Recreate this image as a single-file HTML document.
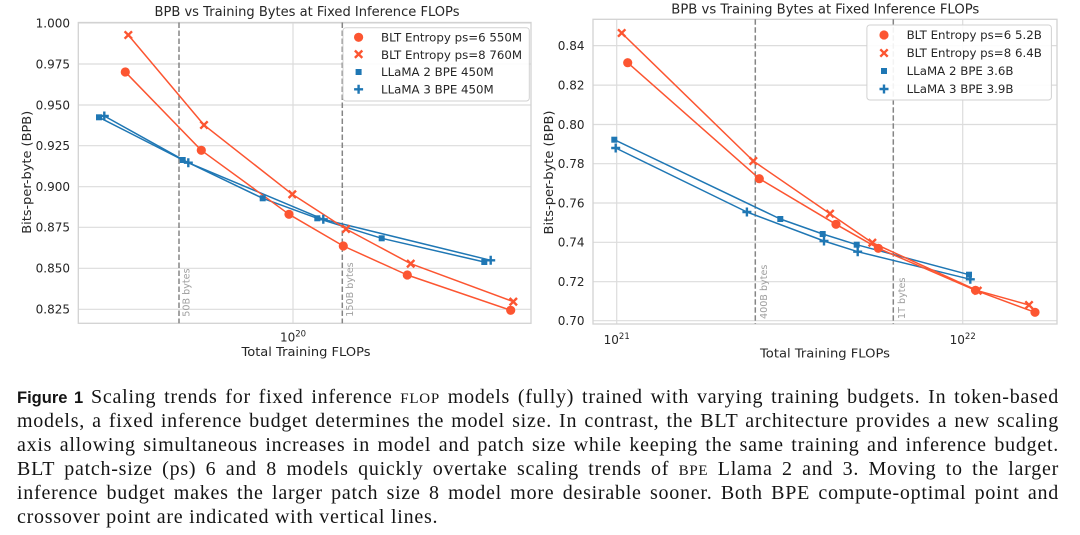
<!DOCTYPE html>
<html>
<head>
<meta charset="utf-8">
<style>
  html,body{margin:0;padding:0;background:#fff;}
  body{width:1080px;height:535px;position:relative;overflow:hidden;}
  svg{position:absolute;left:0;top:0;}
  .cap{position:absolute;left:17px;width:1042px;font-family:"Liberation Serif","DejaVu Serif",serif;font-size:20px;line-height:24px;color:#141414;text-align:justify;text-align-last:justify;letter-spacing:0.75px;white-space:normal;}
  .cap.last{text-align:left;text-align-last:left;}
  .fig{font-family:"Liberation Sans",sans-serif;font-weight:bold;font-size:16.5px;letter-spacing:0;}
  .sc{font-size:15px;}
</style>
</head>
<body>
<svg width="1080" height="370" viewBox="0 0 1080 370" xmlns="http://www.w3.org/2000/svg" font-family="DejaVu Sans, sans-serif">
  <!-- ================= LEFT CHART ================= -->
  <g stroke="#dcdcdc" stroke-width="1.2" fill="none">
    <line x1="78.3" y1="23" x2="531" y2="23"/>
    <line x1="78.3" y1="64" x2="531" y2="64"/>
    <line x1="78.3" y1="105" x2="531" y2="105"/>
    <line x1="78.3" y1="145.7" x2="531" y2="145.7"/>
    <line x1="78.3" y1="186.7" x2="531" y2="186.7"/>
    <line x1="78.3" y1="227.3" x2="531" y2="227.3"/>
    <line x1="78.3" y1="268.3" x2="531" y2="268.3"/>
    <line x1="78.3" y1="309.3" x2="531" y2="309.3"/>
    <line x1="293" y1="22.5" x2="293" y2="323.3"/>
  </g>
  <rect x="78.3" y="22.5" width="452.7" height="300.8" fill="none" stroke="#d2d2d2" stroke-width="1.3"/>
  <g stroke="#858585" stroke-width="1.5" stroke-dasharray="5.5,2.5">
    <line x1="179" y1="22.5" x2="179" y2="323.3"/>
    <line x1="342.3" y1="22.5" x2="342.3" y2="323.3"/>
  </g>
  <g fill="#a0a0a0" font-size="9.6">
    <text transform="translate(189.7,316.7) rotate(-90)">50B bytes</text>
    <text transform="translate(353,316.7) rotate(-90)">150B bytes</text>
  </g>
  <!-- left tick labels -->
  <g fill="#262626" font-size="12" text-anchor="end">
    <text x="70" y="27.3">1.000</text>
    <text x="70" y="68.3">0.975</text>
    <text x="70" y="109.3">0.950</text>
    <text x="70" y="150">0.925</text>
    <text x="70" y="191">0.900</text>
    <text x="70" y="231.6">0.875</text>
    <text x="70" y="272.6">0.850</text>
    <text x="70" y="313.6">0.825</text>
  </g>
  <text x="293" y="341.5" fill="#262626" font-size="12" text-anchor="middle">10<tspan dy="-5" font-size="8.5">20</tspan></text>
  <text x="306" y="356" fill="#262626" font-size="12.5" text-anchor="middle" textLength="129" lengthAdjust="spacingAndGlyphs">Total Training FLOPs</text>
  <text transform="translate(31.2,172.3) rotate(-90)" fill="#262626" font-size="12.5" text-anchor="middle" textLength="123" lengthAdjust="spacingAndGlyphs">Bits-per-byte (BPB)</text>
  <text x="307" y="16" fill="#262626" font-size="13" text-anchor="middle" textLength="305" lengthAdjust="spacingAndGlyphs">BPB vs Training Bytes at Fixed Inference FLOPs</text>

  <!-- left series -->
  <g fill="none" stroke-width="1.5" stroke-linejoin="round">
    <polyline stroke="#1f77b4" points="99,117.3 182.7,160 262.7,198.3 317.3,218.3 381.7,238.3 484.3,262"/>
    <polyline stroke="#1f77b4" points="104.3,116 188.3,162.7 323.3,219.3 490.7,260.3"/>
    <polyline stroke="#fc5531" points="125.3,72 201.3,150.3 289,214.3 343.3,246 407.3,275 510.7,310.3"/>
    <polyline stroke="#fc5531" points="128.3,35 204,125 292.3,194.3 346,229 410.7,263.7 513.3,301.7"/>
  </g>
  <g fill="#1f77b4">
    <rect x="96" y="114.3" width="6" height="6"/>
    <rect x="179.7" y="157" width="6" height="6"/>
    <rect x="259.7" y="195.3" width="6" height="6"/>
    <rect x="314.3" y="215.3" width="6" height="6"/>
    <rect x="378.7" y="235.3" width="6" height="6"/>
    <rect x="481.3" y="259" width="6" height="6"/>
  </g>
  <g stroke="#1f77b4" stroke-width="2.4">
    <path d="M99.8,116 h9 M104.3,111.5 v9"/>
    <path d="M183.8,162.7 h9 M188.3,158.2 v9"/>
    <path d="M318.8,219.3 h9 M323.3,214.8 v9"/>
    <path d="M486.2,260.3 h9 M490.7,255.8 v9"/>
  </g>
  <g fill="#fc5531">
    <circle cx="125.3" cy="72" r="4.6"/>
    <circle cx="201.3" cy="150.3" r="4.6"/>
    <circle cx="289" cy="214.3" r="4.6"/>
    <circle cx="343.3" cy="246" r="4.6"/>
    <circle cx="407.3" cy="275" r="4.6"/>
    <circle cx="510.7" cy="310.3" r="4.6"/>
  </g>
  <g stroke="#fc5531" stroke-width="2.4">
    <path d="M124.6,31.3 l7.4,7.4 M132,31.3 l-7.4,7.4"/>
    <path d="M200.3,121.3 l7.4,7.4 M207.7,121.3 l-7.4,7.4"/>
    <path d="M288.6,190.6 l7.4,7.4 M296,190.6 l-7.4,7.4"/>
    <path d="M342.3,225.3 l7.4,7.4 M349.7,225.3 l-7.4,7.4"/>
    <path d="M407,260 l7.4,7.4 M414.4,260 l-7.4,7.4"/>
    <path d="M509.6,298 l7.4,7.4 M517,298 l-7.4,7.4"/>
  </g>
  <!-- left legend -->
  <rect x="343" y="27.7" width="186.3" height="73.3" rx="3" fill="#fff" fill-opacity="0.9" stroke="#d2d2d2" stroke-width="1"/>
  <circle cx="358.6" cy="37.3" r="4.6" fill="#fc5531"/>
  <path d="M354.9,51 l7.4,7.4 M362.3,51 l-7.4,7.4" stroke="#fc5531" stroke-width="2.4" transform="translate(0,-0.5)"/>
  <rect x="355.6" y="69" width="6" height="6" fill="#1f77b4"/>
  <path d="M354.1,89.3 h9 M358.6,84.8 v9" stroke="#1f77b4" stroke-width="2.4"/>
  <g fill="#262626" font-size="11.8">
    <text x="381" y="41.5">BLT Entropy ps=6 550M</text>
    <text x="381" y="58.9">BLT Entropy ps=8 760M</text>
    <text x="381" y="76.2">LLaMA 2 BPE 450M</text>
    <text x="381" y="93.5">LLaMA 3 BPE 450M</text>
  </g>

  <!-- ================= RIGHT CHART ================= -->
  <g stroke="#dcdcdc" stroke-width="1.2" fill="none">
    <line x1="593" y1="45.6" x2="1057" y2="45.6"/>
    <line x1="593" y1="85.1" x2="1057" y2="85.1"/>
    <line x1="593" y1="124.5" x2="1057" y2="124.5"/>
    <line x1="593" y1="163.7" x2="1057" y2="163.7"/>
    <line x1="593" y1="203" x2="1057" y2="203"/>
    <line x1="593" y1="242.3" x2="1057" y2="242.3"/>
    <line x1="593" y1="281.7" x2="1057" y2="281.7"/>
    <line x1="593" y1="320.7" x2="1057" y2="320.7"/>
    <line x1="616.7" y1="19.3" x2="616.7" y2="324"/>
    <line x1="962.7" y1="19.3" x2="962.7" y2="324"/>
  </g>
  <rect x="593" y="19.3" width="464" height="304.7" fill="none" stroke="#d2d2d2" stroke-width="1.3"/>
  <g stroke="#858585" stroke-width="1.5" stroke-dasharray="5.5,2.5">
    <line x1="755.3" y1="19.3" x2="755.3" y2="324"/>
    <line x1="893.3" y1="19.3" x2="893.3" y2="324"/>
  </g>
  <g fill="#a0a0a0" font-size="9.6">
    <text transform="translate(767,319) rotate(-90)">400B bytes</text>
    <text transform="translate(905,319) rotate(-90)">1T bytes</text>
  </g>
  <g fill="#262626" font-size="12" text-anchor="end">
    <text x="584.5" y="49.9">0.84</text>
    <text x="584.5" y="89.4">0.82</text>
    <text x="584.5" y="128.8">0.80</text>
    <text x="584.5" y="168">0.78</text>
    <text x="584.5" y="207.3">0.76</text>
    <text x="584.5" y="246.6">0.74</text>
    <text x="584.5" y="286">0.72</text>
    <text x="584.5" y="325">0.70</text>
  </g>
  <text x="616.7" y="344" fill="#262626" font-size="12" text-anchor="middle">10<tspan dy="-5" font-size="8.5">21</tspan></text>
  <text x="962.7" y="344" fill="#262626" font-size="12" text-anchor="middle">10<tspan dy="-5" font-size="8.5">22</tspan></text>
  <text x="825" y="357.5" fill="#262626" font-size="12.5" text-anchor="middle" textLength="130" lengthAdjust="spacingAndGlyphs">Total Training FLOPs</text>
  <text transform="translate(553,172.5) rotate(-90)" fill="#262626" font-size="12.5" text-anchor="middle" textLength="124" lengthAdjust="spacingAndGlyphs">Bits-per-byte (BPB)</text>
  <text x="825.3" y="13.5" fill="#262626" font-size="13" text-anchor="middle" textLength="308" lengthAdjust="spacingAndGlyphs">BPB vs Training Bytes at Fixed Inference FLOPs</text>

  <g fill="none" stroke-width="1.5" stroke-linejoin="round">
    <polyline stroke="#1f77b4" points="614.3,139.7 780.3,219 822.7,234 856.7,244.7 969,274.7"/>
    <polyline stroke="#1f77b4" points="615.7,148 746.9,212 824,241 857.7,251.7 970.3,279.3"/>
    <polyline stroke="#fc5531" points="627.7,62.7 759.3,178.7 836,224.3 878.3,248.3 975.5,290.3 1035,312.3"/>
    <polyline stroke="#fc5531" points="621.7,33 753.3,161 830,213.7 872.3,242.7 977.7,290.7 1029,305"/>
  </g>
  <g fill="#1f77b4">
    <rect x="611.3" y="136.7" width="6" height="6"/>
    <rect x="777.3" y="216" width="6" height="6"/>
    <rect x="819.7" y="231" width="6" height="6"/>
    <rect x="853.7" y="241.7" width="6" height="6"/>
    <rect x="966" y="271.7" width="6" height="6"/>
  </g>
  <g stroke="#1f77b4" stroke-width="2.4">
    <path d="M611.2,148 h9 M615.7,143.5 v9"/>
    <path d="M742.4,212 h9 M746.9,207.5 v9"/>
    <path d="M819.5,241 h9 M824,236.5 v9"/>
    <path d="M853.2,251.7 h9 M857.7,247.2 v9"/>
    <path d="M965.8,279.3 h9 M970.3,274.8 v9"/>
  </g>
  <g fill="#fc5531">
    <circle cx="627.7" cy="62.7" r="4.6"/>
    <circle cx="759.3" cy="178.7" r="4.6"/>
    <circle cx="836" cy="224.3" r="4.6"/>
    <circle cx="878.3" cy="248.3" r="4.6"/>
    <circle cx="975.5" cy="290.3" r="4.6"/>
    <circle cx="1035" cy="312.3" r="4.6"/>
  </g>
  <g stroke="#fc5531" stroke-width="2.4">
    <path d="M618,29.3 l7.4,7.4 M625.4,29.3 l-7.4,7.4"/>
    <path d="M749.6,157.3 l7.4,7.4 M757,157.3 l-7.4,7.4"/>
    <path d="M826.3,210 l7.4,7.4 M833.7,210 l-7.4,7.4"/>
    <path d="M868.6,239 l7.4,7.4 M876,239 l-7.4,7.4"/>
    <path d="M974,287 l7.4,7.4 M981.4,287 l-7.4,7.4"/>
    <path d="M1025.3,301.3 l7.4,7.4 M1032.7,301.3 l-7.4,7.4"/>
  </g>
  <!-- right legend -->
  <rect x="866.9" y="25" width="184.5" height="75" rx="3" fill="#fff" fill-opacity="0.9" stroke="#d2d2d2" stroke-width="1"/>
  <circle cx="884" cy="35" r="4.6" fill="#fc5531"/>
  <path d="M880.3,49.3 l7.4,7.4 M887.7,49.3 l-7.4,7.4" stroke="#fc5531" stroke-width="2.4"/>
  <rect x="881" y="68" width="6" height="6" fill="#1f77b4"/>
  <path d="M879.5,89 h9 M884,84.5 v9" stroke="#1f77b4" stroke-width="2.4"/>
  <g fill="#262626" font-size="11.8">
    <text x="906.6" y="39.2">BLT Entropy ps=6 5.2B</text>
    <text x="906.6" y="57.2">BLT Entropy ps=8 6.4B</text>
    <text x="906.6" y="75.2">LLaMA 2 BPE 3.6B</text>
    <text x="906.6" y="93.2">LLaMA 3 BPE 3.9B</text>
  </g>
</svg>

<div class="cap" style="top:385px"><span class="fig">Figure 1</span> Scaling trends for fixed inference <span class="sc">FLOP</span> models (fully) trained with varying training budgets. In token-based</div>
<div class="cap" style="top:409px">models, a fixed inference budget determines the model size. In contrast, the BLT architecture provides a new scaling</div>
<div class="cap" style="top:433px">axis allowing simultaneous increases in model and patch size while keeping the same training and inference budget.</div>
<div class="cap" style="top:457px">BLT patch-size (ps) 6 and 8 models quickly overtake scaling trends of <span class="sc">BPE</span> Llama 2 and 3. Moving to the larger</div>
<div class="cap" style="top:481px">inference budget makes the larger patch size 8 model more desirable sooner. Both BPE compute-optimal point and</div>
<div class="cap last" style="top:505px">crossover point are indicated with vertical lines.</div>
</body>
</html>
